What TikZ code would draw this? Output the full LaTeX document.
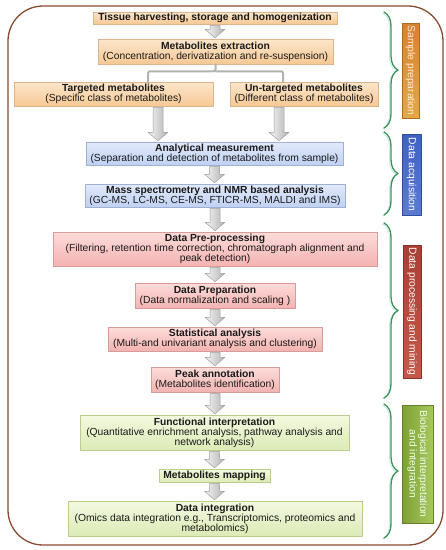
\documentclass[tikz,border=0pt]{standalone}
\usepackage{fontspec}
\setmainfont{Liberation Sans}
\usetikzlibrary{arrows.meta, calc, positioning, decorations.pathreplacing, shadows}

\definecolor{cornice}{HTML}{8A4B32}
\definecolor{testo}{HTML}{1A1A1A}
\definecolor{arTop}{HTML}{FCE6CB}
\definecolor{arBot}{HTML}{F6C894}
\definecolor{arBordo}{HTML}{DDB58C}
\definecolor{azTop}{HTML}{E2EAFB}
\definecolor{azBot}{HTML}{C0D1F2}
\definecolor{azBordo}{HTML}{9DB0D6}
\definecolor{roTop}{HTML}{FCDCDA}
\definecolor{roBot}{HTML}{F3B3B1}
\definecolor{roBordo}{HTML}{D79C9A}
\definecolor{veTop}{HTML}{F3F9E0}
\definecolor{veBot}{HTML}{DCEBB6}
\definecolor{veBordo}{HTML}{BACD8E}
\definecolor{graffaVerde}{HTML}{3E9152}
\definecolor{fArancio}{HTML}{D9822B}
\definecolor{fArancioChiaro}{HTML}{E3A848}
\definecolor{fBlu}{HTML}{3F62C2}
\definecolor{fBluChiaro}{HTML}{5A7BD0}
\definecolor{fRosso}{HTML}{A93E34}
\definecolor{fRossoChiaro}{HTML}{C4584A}
\definecolor{fVerde}{HTML}{7DA036}
\definecolor{fVerdeChiaro}{HTML}{A9C85A}

% freccia grigia a blocco: dal punto #1 verso il punto #2
\newcommand{\freccia}[2]{%
  \draw[freccia] let \p1=(#1), \p2=(#2) in
    (\x1-5pt,\y1-1pt) -- (\x1+5pt,\y1-1pt) -- (\x1+5pt,\y2+9.5pt)
    -- (\x1+10pt,\y2+9.5pt) -- (\x1,\y2+1pt) -- (\x1-10pt,\y2+9.5pt)
    -- (\x1-5pt,\y2+9.5pt) -- cycle;}

\begin{document}
\begin{tikzpicture}[
    x=1pt, y=-1pt,
    line cap=round,
    line join=round,
    scatola/.style = {draw, line width=0.5pt, align=center, inner sep=1pt,
                      text=testo, font=\fontsize{10.3}{10}\selectfont,
                      drop shadow={shadow xshift=0.8pt, shadow yshift=-0.8pt, opacity=0.25}},
    arancio/.style = {scatola, draw=arBordo, top color=arTop, bottom color=arBot},
    azzurro/.style = {scatola, draw=azBordo, top color=azTop, bottom color=azBot},
    rosa/.style    = {scatola, draw=roBordo, top color=roTop, bottom color=roBot},
    verde/.style   = {scatola, draw=veBordo, top color=veTop, bottom color=veBot},
    freccia/.style = {draw=gray!75, line width=0.5pt, left color=gray!8, right color=gray!60},
    ramo/.style    = {draw=gray!60, line width=2pt, rounded corners=2pt},
    graffa/.style  = {draw=graffaVerde, line width=1.3pt,
                      decorate, decoration={brace, amplitude=14pt}},
    ombra/.style   = {graffa, draw=cyan!25, line width=0.8pt},
    fascia/.style  = {rotate=-90, inner sep=1pt, align=center, line width=0.3pt,
                      font=\fontsize{10.3}{10.5}\selectfont},
    cornice/.style = {draw=cornice, line width=1.3pt, rounded corners=35pt}
]
\useasboundingbox (0,0) rectangle (446,550);

% ---- cornice ----
\draw[cornice] (8,6) rectangle (443,545);

% ---- preparazione del campione ----
\node[arancio, minimum width=244, minimum height=12] (tess) at (215,18)
    {\textbf{Tissue harvesting, storage and homogenization}};
\node[arancio, minimum width=235, minimum height=25] (estr) at (215.5,51.5)
    {\textbf{Metabolites extraction}\\(Concentration, derivatization and re-suspension)};
\node[arancio, minimum width=199, minimum height=24] (mirato) at (113.5,94)
    {\textbf{Targeted metabolites}\\(Specific class of metabolites)};
\node[arancio, minimum width=148, minimum height=24] (nonmirato) at (304,94)
    {\textbf{Un-targeted metabolites}\\(Different class of metabolites)};

% ---- acquisizione dei dati ----
\node[azzurro, minimum width=257, minimum height=23] (misura) at (214.5,153.5)
    {\textbf{Analytical measurement}\\(Separation and detection of metabolites from sample)};
\node[azzurro, minimum width=260, minimum height=23] (massa) at (215,195.5)
    {\textbf{Mass spectrometry and NMR based analysis}\\(GC-MS, LC-MS, CE-MS, FTICR-MS, MALDI and IMS)};

% ---- elaborazione dei dati ----
\node[rosa, minimum width=324, minimum height=34] (preproc) at (215,249)
    {\textbf{Data Pre-processing}\\(Filtering, retention time correction, chromatograph alignment and\\peak detection)};
\node[rosa, minimum width=160, minimum height=25] (prep) at (215,295.5)
    {\textbf{Data Preparation}\\(Data normalization and scaling )};
\node[rosa, minimum width=214, minimum height=24] (stat) at (215,339)
    {\textbf{Statistical analysis}\\(Multi-and univariant analysis and clustering)};
\node[rosa, minimum width=128, minimum height=25] (picchi) at (215,379.5)
    {\textbf{Peak annotation}\\(Metabolites identification)};

% ---- interpretazione biologica ----
\node[verde, minimum width=269, minimum height=35] (funz) at (214.5,432.5)
    {\textbf{Functional interpretation}\\(Quantitative enrichment analysis, pathway analysis and\\network analysis)};
\node[verde, minimum width=111, minimum height=13] (mappa) at (214.5,475.5)
    {\textbf{Metabolites mapping}};
\node[verde, minimum width=294, minimum height=35] (integr) at (215,518.5)
    {\textbf{Data integration}\\(Omics data integration e.g., Transcriptomics, proteomics and\\metabolomics)};

% ---- diramazione ----
\draw[ramo] (estr.south) -- ++(0,7) coordinate (bivio) -| ([xshift=34.5pt]mirato.north);
\draw[ramo] (bivio) -| ([xshift=-21pt]nonmirato.north);

% ---- frecce ----
\coordinate (gA) at ([xshift=44.5pt]mirato.south);
\coordinate (gB) at ([xshift=-25pt]nonmirato.south);
\freccia{tess.south}{estr.north}
\freccia{gA}{gA |- misura.north}
\freccia{gB}{gB |- misura.north}
\freccia{misura.south}{massa.north}
\freccia{massa.south}{preproc.north}
\freccia{preproc.south}{prep.north}
\freccia{prep.south}{stat.north}
\freccia{stat.south}{picchi.north}
\freccia{picchi.south}{funz.north}
\freccia{funz.south}{mappa.north}
\freccia{mappa.south}{integr.north}

% ---- graffe ----
\draw[ombra] (382.5,13) -- (382.5,129);
\draw[graffa] (384,12) -- (384,128);
\draw[ombra] (382.5,133) -- (382.5,216);
\draw[graffa] (384,132) -- (384,215);
\draw[ombra] (382.5,224) -- (382.5,399);
\draw[graffa] (384,223) -- (384,398);
\draw[ombra] (382.5,405) -- (382.5,539);
\draw[graffa] (384,404) -- (384,538);

% ---- fasce delle fasi ----
\node[fascia, minimum width=95, minimum height=17, draw=fArancio!80!black,
      top color=fArancio, bottom color=fArancioChiaro, text=orange!15] (fase1) at (410.5,70.5)
    {Sample preparation};
\node[fascia, minimum width=81, minimum height=19, draw=fBlu!80!black,
      top color=fBlu, bottom color=fBluChiaro, text=white] (fase2) at (411.5,174.5)
    {Data acquisition};
\node[fascia, minimum width=133, minimum height=18, draw=fRosso!80!black,
      top color=fRosso, bottom color=fRossoChiaro, text=white] (fase3) at (412,311.5)
    {Data processing and mining};
\node[fascia, minimum width=118, minimum height=31, draw=fVerde!80!black,
      left color=fVerde, right color=fVerdeChiaro, text=green!5] (fase4) at (417.5,464)
    {Biological interpretation\\and integration};

\end{tikzpicture}
\end{document}
